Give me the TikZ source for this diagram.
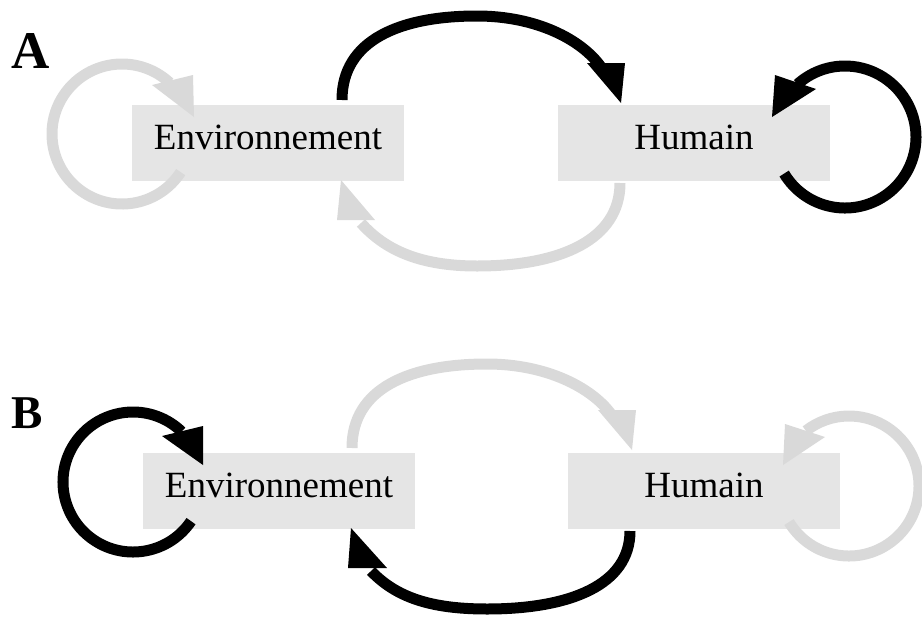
\documentclass[tikz,border=0pt]{standalone}
\usepackage{fontspec}
\setmainfont{Liberation Serif}
\definecolor{boxgray}{HTML}{E5E5E5}
\definecolor{arrgray}{HTML}{D9D9D9}
\tikzset{
  box/.style={fill=boxgray, minimum width=272pt, minimum height=76pt, inner sep=0pt,
              text height=25pt, text depth=13pt, font=\fontsize{37}{40}\selectfont},
  con/.style={line width=11pt},
  panellab/.style={anchor=base west, inner sep=0pt, font=\bfseries},
}
\begin{document}
\begin{tikzpicture}[x=1pt,y=-1pt]
\useasboundingbox (0,0) rectangle (922,619);

% ---------------- Panel A ----------------
\node[panellab, font=\bfseries\fontsize{53}{58}\selectfont] (labA) at (11,68) {A};
\node[box] (envA) at (268,143) {Environnement};
\node[box] (humA) at (694,143) {Humain};

% gray self-loop on Environnement
\coordinate (cEA) at (122,134);
\draw[con, arrgray] (cEA) ++(33:70) arc[start angle=33, end angle=313, radius=70];
\fill[arrgray] (194,117) coordinate (tEA) -- (152,85) -- (193,75) -- cycle;

% black Environnement -> Humain (top)
\coordinate (sA1) at (342,100);
\draw[con] (sA1) .. controls (342,40) and (400,16) .. (477,16)
                 .. controls (537,16) and (582,40) .. (601,67);
\fill (621,103) coordinate (tA1) -- (587,63) -- (625,63) -- cycle;

% black self-loop on Humain
\coordinate (cHA) at (845,137);
\draw[con] (cHA) ++(149:71) arc[start angle=149, end angle=-132, radius=71];
\fill (772,117) coordinate (tHA) -- (775,75) -- (816,89) -- cycle;

% gray Humain -> Environnement (bottom)
\coordinate (sA2) at (620,183);
\draw[con, arrgray] (sA2) .. controls (620,240) and (560,266) .. (477,266)
                          .. controls (420,266) and (385,250) .. (361,223);
\fill[arrgray] (341,180) coordinate (tA2) -- (337,220) -- (375,220) -- cycle;

% ---------------- Panel B ----------------
\node[panellab, font=\bfseries\fontsize{47}{52}\selectfont] (labB) at (11,428) {B};
\node[box] (envB) at (279,491) {Environnement};
\node[box] (humB) at (704,491) {Humain};

% black self-loop on Environnement
\coordinate (cEB) at (133,482);
\draw[con] (cEB) ++(34:70) arc[start angle=34, end angle=314, radius=70];
\fill (203,465) coordinate (tEB) -- (162,436) -- (203,426) -- cycle;

% gray Environnement -> Humain (top)
\coordinate (sB1) at (352,448);
\draw[con, arrgray] (sB1) .. controls (352,388) and (410,364) .. (487,364)
                          .. controls (547,364) and (592,388) .. (611,414);
\fill[arrgray] (632,450) coordinate (tB1) -- (598,410) -- (636,410) -- cycle;

% gray self-loop on Humain
\coordinate (cHB) at (849,486);
\draw[con, arrgray] (cHB) ++(149:70) arc[start angle=149, end angle=-128, radius=70];
\fill[arrgray] (783,465) coordinate (tHB) -- (785,424) -- (825,437) -- cycle;

% black Humain -> Environnement (bottom)
\coordinate (sB2) at (630,531);
\draw[con] (sB2) .. controls (630,585) and (570,609) .. (487,609)
                 .. controls (430,609) and (396,597) .. (371,571);
\fill (351,528) coordinate (tB2) -- (348,568) -- (387,568) -- cycle;
\end{tikzpicture}
\end{document}
